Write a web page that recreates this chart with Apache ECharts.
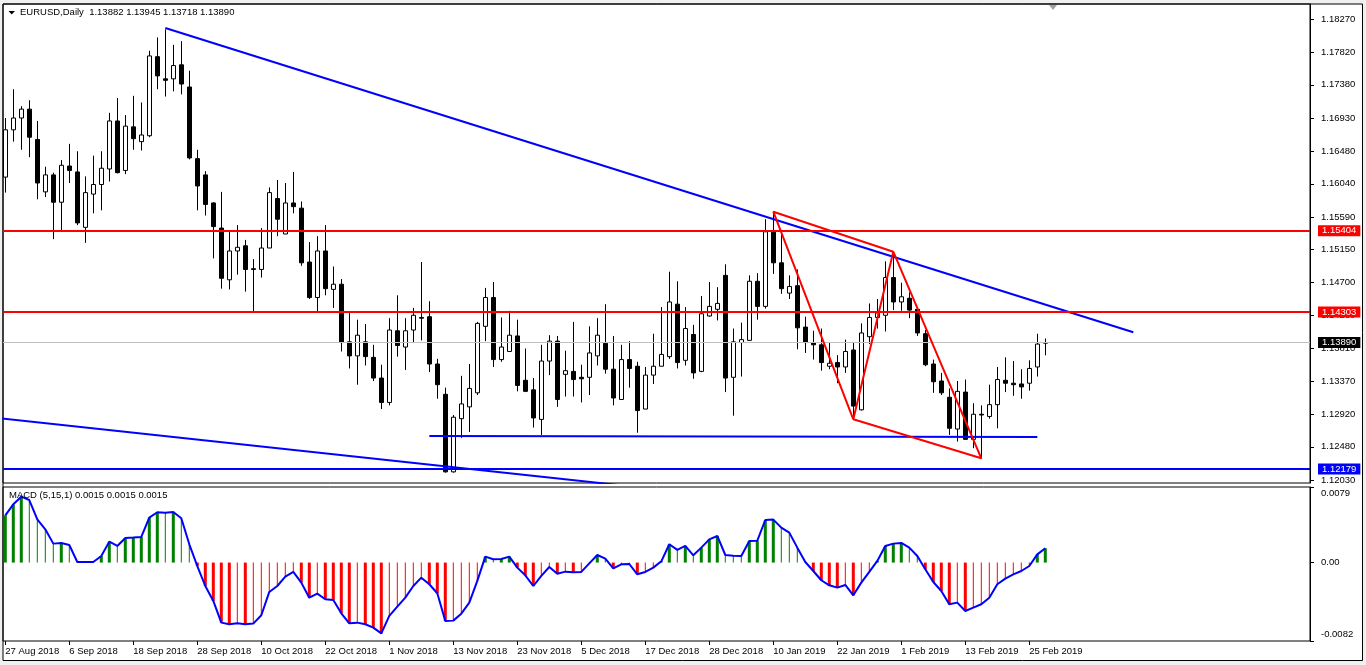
<!DOCTYPE html>
<html><head><meta charset="utf-8">
<script src="https://cdn.jsdelivr.net/npm/echarts@6/dist/echarts.min.js"></script>
<style>html,body{margin:0;padding:0;background:#f0f0f0;}#c{width:1366px;height:665px;}</style>
</head><body><div id="c"></div>
<script>
// ---- data (daily bars, index 0 = 27 Aug 2018) ----
const open = [1.1613,1.1677,1.1693,1.1705,1.1664,1.1593,1.1616,1.1579,1.1628,1.1620,
1.1545,1.1590,1.1603,1.1624,1.1689,1.1622,1.1681,1.1661,1.1669,1.1776,
1.1746,1.1746,1.1765,1.1735,1.1638,1.1616,1.1578,1.1544,1.1474,1.1513,
1.1520,1.1489,1.1488,1.1517,1.1584,1.1536,1.1578,1.1571,1.1498,1.1450,
1.1513,1.1461,1.1468,1.1390,1.1371,1.1390,1.1369,1.1341,1.1308,1.1405,
1.1383,1.1406,1.1423,1.1424,1.1360,1.1319,1.1214,1.1286,1.1302,1.1321,
1.1411,1.1450,1.1366,1.1377,1.1398,1.1338,1.1325,1.1285,1.1364,1.1391,
1.1346,1.1350,1.1342,1.1342,1.1371,1.1388,1.1353,1.1312,1.1366,1.1357,
1.1299,1.1345,1.1357,1.1370,1.1441,1.1365,1.1400,1.1350,1.1425,1.1434,
1.1480,1.1342,1.1389,1.1392,1.1472,1.1438,1.1539,1.1497,1.1456,1.1466,
1.1410,1.1389,1.1386,1.1357,1.1362,1.1356,1.1379,1.1298,1.1397,1.1423,
1.1426,1.1477,1.1444,1.1449,1.1434,1.1401,1.1360,1.1337,1.1315,1.1272,
1.1322,1.1258,1.1292,1.1289,1.1305,1.1338,1.1334,1.1333,1.1334,1.1356,
1.13882];
const high = [1.1693,1.1732,1.1709,1.1717,1.1689,1.1627,1.1619,1.1636,1.1658,1.1648,
1.1614,1.1642,1.1648,1.1700,1.1720,1.1697,1.1723,1.1714,1.1784,1.1802,
1.1813,1.1792,1.1797,1.1757,1.1650,1.1621,1.1579,1.1593,1.1541,1.1548,
1.1528,1.1502,1.1544,1.1599,1.1609,1.1605,1.1620,1.1580,1.1525,1.1533,
1.1548,1.1492,1.1475,1.1429,1.1420,1.1414,1.1386,1.1359,1.1422,1.1453,
1.1422,1.1436,1.1498,1.1445,1.1367,1.1328,1.1291,1.1344,1.1360,1.1417,
1.1463,1.1471,1.1423,1.1432,1.1420,1.1381,1.1341,1.1386,1.1399,1.1398,
1.1378,1.1417,1.1359,1.1411,1.1422,1.1441,1.1398,1.1386,1.1391,1.1363,
1.1356,1.1401,1.1437,1.1485,1.1472,1.1437,1.1413,1.1452,1.1471,1.1464,
1.1495,1.1408,1.1416,1.1480,1.1483,1.1556,1.1566,1.1539,1.1480,1.1488,
1.1424,1.1405,1.1408,1.1389,1.1372,1.1393,1.1389,1.1415,1.1442,1.1448,
1.1499,1.1512,1.1470,1.1457,1.1435,1.1406,1.1366,1.1348,1.1327,1.1337,
1.1339,1.1307,1.1304,1.1332,1.1356,1.1369,1.1364,1.1353,1.1365,1.1401,
1.13945];
const low = [1.1592,1.1661,1.1650,1.1640,1.1583,1.1586,1.1529,1.1541,1.1605,1.1548,
1.1524,1.1564,1.1568,1.1607,1.1618,1.1617,1.1650,1.1649,1.1667,1.1732,
1.1722,1.1729,1.1725,1.1637,1.1568,1.1561,1.1503,1.1462,1.1461,1.1481,
1.1458,1.1430,1.1477,1.1517,1.1533,1.1536,1.1564,1.1493,1.1448,1.1430,
1.1453,1.1436,1.1377,1.1354,1.1332,1.1358,1.1337,1.1299,1.1304,1.1370,
1.1352,1.1389,1.1392,1.1349,1.1313,1.1213,1.1213,1.1260,1.1268,1.1318,
1.1391,1.1356,1.1363,1.1377,1.1323,1.1322,1.1274,1.1264,1.1345,1.1302,
1.1316,1.1316,1.1308,1.1318,1.1358,1.1347,1.1304,1.1312,1.1328,1.1267,
1.1299,1.1333,1.1357,1.1367,1.1354,1.1358,1.1340,1.1349,1.1424,1.1419,
1.1322,1.1290,1.1343,1.1392,1.1420,1.1435,1.1482,1.1455,1.1448,1.1380,
1.1375,1.1366,1.1351,1.1353,1.1334,1.1348,1.1285,1.1297,1.1387,1.1408,
1.1404,1.1433,1.1432,1.1422,1.1398,1.1357,1.1321,1.1318,1.1264,1.1255,
1.1258,1.1246,1.1232,1.1286,1.1273,1.1322,1.1317,1.1313,1.1324,1.1343,
1.13718];
const close = [1.1677,1.1693,1.1705,1.1667,1.1605,1.1616,1.1579,1.1629,1.1622,1.1551,
1.1592,1.1603,1.1625,1.1689,1.1619,1.1682,1.1665,1.1670,1.1777,1.1750,
1.1744,1.1764,1.1739,1.1639,1.1601,1.1576,1.1546,1.1476,1.1513,1.1518,
1.1488,1.1488,1.1517,1.1592,1.1556,1.1578,1.1573,1.1497,1.1450,1.1513,
1.1462,1.1468,1.1389,1.1371,1.1399,1.1370,1.1341,1.1308,1.1406,1.1385,
1.1405,1.1426,1.1422,1.1360,1.1332,1.1214,1.1288,1.1306,1.1327,1.1415,
1.1450,1.1366,1.1383,1.1399,1.1331,1.1323,1.1287,1.1364,1.1391,1.1312,
1.1351,1.1339,1.1340,1.1375,1.1399,1.1353,1.1314,1.1366,1.1354,1.1297,
1.1345,1.1357,1.1373,1.1444,1.1362,1.1408,1.1348,1.1428,1.1438,1.1442,
1.1341,1.1390,1.1393,1.1472,1.1438,1.1539,1.1497,1.1462,1.1465,1.1409,
1.1389,1.1386,1.1362,1.1361,1.1356,1.1377,1.1303,1.1402,1.1423,1.1429,
1.1477,1.1444,1.1451,1.1433,1.1402,1.1359,1.1336,1.1321,1.1273,1.1323,
1.1258,1.1292,1.1291,1.1305,1.1339,1.1334,1.1332,1.1329,1.1354,1.1387,
1.13890];
// MACD (5,15,1) main values, one per bar
const macd = [0.00494,0.00609,0.00689,0.00654,0.00452,0.00348,0.00198,0.00205,0.00184,0.00006,
0.00006,0.00006,0.00069,0.00219,0.00174,0.00257,0.00261,0.00268,0.00470,0.00526,
0.00522,0.00529,0.00463,0.00191,-0.00036,-0.00245,-0.00401,-0.00628,-0.00645,-0.00635,
-0.00645,-0.00638,-0.00551,-0.00307,-0.00245,-0.00147,-0.00098,-0.00210,-0.00367,-0.00325,
-0.00384,-0.00391,-0.00530,-0.00635,-0.00628,-0.00645,-0.00680,-0.00740,-0.00558,-0.00461,
-0.00367,-0.00245,-0.00158,-0.00227,-0.00321,-0.00611,-0.00607,-0.00534,-0.00419,-0.00192,
0.00062,0.00034,0.00038,0.00062,-0.00053,-0.00133,-0.00245,-0.00140,-0.00046,-0.00116,
-0.00095,-0.00102,-0.00098,-0.00008,0.00079,0.00041,-0.00060,-0.00018,-0.00015,-0.00123,
-0.00098,-0.00053,0.00013,0.00191,0.00132,0.00174,0.00076,0.00156,0.00243,0.00278,
0.00079,0.00072,0.00069,0.00226,0.00229,0.00445,0.00449,0.00365,0.00313,0.00156,
0.00006,-0.00088,-0.00185,-0.00238,-0.00262,-0.00234,-0.00342,-0.00210,-0.00098,0.00017,
0.00174,0.00198,0.00205,0.00156,0.00069,-0.00070,-0.00203,-0.00297,-0.00436,-0.00419,
-0.00506,-0.00471,-0.00436,-0.00367,-0.00227,-0.00168,-0.00123,-0.00088,-0.00036,0.00086,
0.00150];
const dateTickBars = [0,8,16,24,32,40,48,56,64,72,80,88,96,104,112,120,128];
const dateTickLabels = ['27 Aug 2018','6 Sep 2018','18 Sep 2018','28 Sep 2018','10 Oct 2018','22 Oct 2018','1 Nov 2018','13 Nov 2018','23 Nov 2018','5 Dec 2018','17 Dec 2018','28 Dec 2018','10 Jan 2019','22 Jan 2019','1 Feb 2019','13 Feb 2019','25 Feb 2019'];
const priceTicks = [1.18270,1.17820,1.17380,1.16930,1.16480,1.16040,1.15590,1.15150,1.14700,1.14260,1.13810,1.13370,1.12920,1.12480,1.12030];
const macdTicks = [0.0079, 0, -0.0082];
const macdTickLabels = ['0.0079','0.00','-0.0082'];
const resistanceLevels = [1.15404, 1.14303];
const supportLevels = [1.12179];
const bidPrice = 1.13890;
const upperTrend = [[20,1.18148],[141,1.14029]];
const lowerTrend = [[-1,1.12868],[80,1.11923]];
const baseTrend = [[53,1.12626],[129,1.12612]];
const patternPts = [[111,1.15120],[96,1.15662],[106,1.12852],[111,1.15120],[122,1.12324],[106,1.12852]];
const titleText = 'EURUSD,Daily  1.13882 1.13945 1.13718 1.13890';
const macdTitle = 'MACD (5,15,1) 0.0015 0.0015 0.0015';

// ---- chart ----
const FONT = '"Liberation Sans", Arial, sans-serif';
const FS = 9.5;
const X_MIN = -0.2875, X_MAX = 163.0875;
const P_MIN = 1.119894, P_MAX = 1.184731;

const candles = open.map((o, i) => [i, o, close[i], low[i], high[i]]);
const thick = [], thin = [];
macd.forEach((v, i) => {
  const prev = i > 0 ? macd[i - 1] : null;
  const isThick = prev === null ? true : (v >= 0 ? v > prev : v < prev);
  (isThick ? thick : thin).push([i, v]);
});
const barColor = p => (p.value[1] >= 0 ? '#008000' : '#ff0000');

function levelLine(val, lineColor, width, boxColor) {
  return {
    yAxis: val,
    lineStyle: { color: lineColor, width: width, type: 'solid' },
    label: {
      show: true, position: 'end', distance: 8,
      formatter: val.toFixed(5),
      color: '#fff', backgroundColor: boxColor,
      padding: [1, 4, 0, 4], fontSize: FS, fontFamily: FONT
    }
  };
}

const chart = echarts.init(document.getElementById('c'), null, { renderer: 'canvas' });
const hiddenX = (g) => ({
  type: 'value', gridIndex: g, min: X_MIN, max: X_MAX,
  axisLine: { show: false, onZero: false }, axisTick: { show: false }, axisLabel: { show: false }, splitLine: { show: false }
});

chart.setOption({
  animation: false,
  textStyle: { fontFamily: FONT },
  graphic: [
    { type: 'rect', z: -10, shape: { x: 3, y: 4, width: 1359.5, height: 656.5 },
      style: { fill: '#ffffff', stroke: '#000000', lineWidth: 1 } },
    { type: 'polygon', z: 10, shape: { points: [[8.5, 11], [15, 11], [11.75, 14.5]] }, style: { fill: '#000' } },
    { type: 'polygon', z: 10, shape: { points: [[1049, 5], [1057, 5], [1053, 10]] }, style: { fill: '#a0a0a0' } }
  ],
  title: [
    { text: titleText, left: 20, top: 7, padding: 0,
      textStyle: { fontSize: FS, fontWeight: 'normal', color: '#000', fontFamily: FONT } },
    { text: macdTitle, left: 9, top: 490, padding: 0,
      textStyle: { fontSize: FS, fontWeight: 'normal', color: '#000', fontFamily: FONT } }
  ],
  grid: [
    { left: 3, top: 4, width: 1307, height: 479, show: true, borderColor: '#000', borderWidth: 1 },
    { left: 3, top: 487, width: 1307, height: 154, show: true, borderColor: '#000', borderWidth: 1 }
  ],
  xAxis: [
    hiddenX(0),
    {
      type: 'value', gridIndex: 1, min: X_MIN, max: X_MAX, position: 'bottom',
      axisLine: { show: false, onZero: false },
      axisTick: { show: true, customValues: dateTickBars, length: 4, lineStyle: { color: '#000' } },
      axisLabel: {
        customValues: dateTickBars, align: 'left', margin: 5, fontSize: FS, color: '#000', fontFamily: FONT,
        formatter: v => { const k = dateTickBars.indexOf(Math.round(v)); return k >= 0 ? dateTickLabels[k] : ''; }
      },
      splitLine: { show: false }
    },
    hiddenX(1)
  ],
  yAxis: [
    {
      type: 'value', gridIndex: 0, position: 'right', min: P_MIN, max: P_MAX,
      axisLine: { show: true, onZero: false, lineStyle: { color: '#000' } },
      axisTick: { show: true, customValues: priceTicks, length: 4, lineStyle: { color: '#000' } },
      axisLabel: { customValues: priceTicks, margin: 11, fontSize: FS, color: '#000', fontFamily: FONT,
        formatter: v => v.toFixed(5) },
      splitLine: { show: false }
    },
    {
      type: 'value', gridIndex: 1, position: 'right', min: -0.0082, max: 0.0079,
      axisLine: { show: true, onZero: false, lineStyle: { color: '#000' } },
      axisTick: { show: true, customValues: macdTicks, length: 4, lineStyle: { color: '#000' } },
      axisLabel: {
        customValues: macdTicks, margin: 11, fontSize: FS, color: '#000', fontFamily: FONT,
        formatter: v => {
          let k = 0, best = Infinity;
          macdTicks.forEach((t, j) => { if (Math.abs(t - v) < best) { best = Math.abs(t - v); k = j; } });
          const tag = k === 0 ? 't' : (k === macdTicks.length - 1 ? 'b' : 'm');
          return '{' + tag + '|' + macdTickLabels[k] + '}';
        },
        rich: {
          t: { padding: [12, 0, 0, 0], fontSize: FS, color: '#000', fontFamily: FONT },
          m: { fontSize: FS, color: '#000', fontFamily: FONT },
          b: { padding: [0, 0, 14, 0], fontSize: FS, color: '#000', fontFamily: FONT }
        }
      },
      splitLine: { show: false }
    }
  ],
  series: [
    {
      type: 'candlestick', xAxisIndex: 0, yAxisIndex: 0, data: candles, barWidth: 5, z: 2,
      itemStyle: { color: '#ffffff', color0: '#000000', borderColor: '#000000', borderColor0: '#000000',
        borderColorDoji: '#000000', borderWidth: 1 }
    },
    { type: 'line', xAxisIndex: 0, yAxisIndex: 0, data: baseTrend, symbol: 'none', z: 4,
      lineStyle: { color: '#0000ff', width: 2 },
      markLine: {
        symbol: 'none', silent: true, animation: false, precision: 5,
        data: [
          levelLine(bidPrice, '#c0c0c0', 1, '#000000'),
          ...resistanceLevels.map(v => levelLine(v, '#ff0000', 2, '#ff0000')),
          ...supportLevels.map(v => levelLine(v, '#0000ff', 2, '#0000ff'))
        ]
      }
    },
    { type: 'line', xAxisIndex: 0, yAxisIndex: 0, data: upperTrend, symbol: 'none', z: 4,
      lineStyle: { color: '#0000ff', width: 2 } },
    { type: 'line', xAxisIndex: 0, yAxisIndex: 0, data: lowerTrend, symbol: 'none', z: 4,
      lineStyle: { color: '#0000ff', width: 2 } },
    { type: 'line', xAxisIndex: 0, yAxisIndex: 0, data: patternPts, symbol: 'none', z: 5,
      lineStyle: { color: '#ff0000', width: 2 } },
    { type: 'bar', xAxisIndex: 1, yAxisIndex: 1, data: thick, barWidth: 3, itemStyle: { color: barColor } },
    { type: 'bar', xAxisIndex: 2, yAxisIndex: 1, data: thin, barWidth: 1, itemStyle: { color: barColor } },
    { type: 'line', xAxisIndex: 1, yAxisIndex: 1, data: macd.map((v, i) => [i, v]), symbol: 'none', z: 5,
      lineStyle: { color: '#0000ff', width: 2 } }
  ]
});
</script>
</body></html>
